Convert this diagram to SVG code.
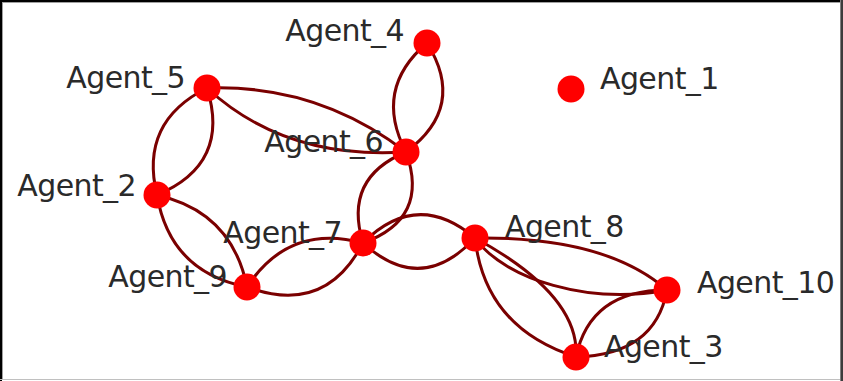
<svg xmlns="http://www.w3.org/2000/svg" width="843" height="381" viewBox="0 0 843 381">
<style>
.edge{fill:none;stroke:#7a0000;stroke-width:3;stroke-linecap:round}
.node{fill:#ff0000}
.lbl{font-family:"DejaVu Sans",Verdana,sans-serif;font-size:30px;letter-spacing:-0.6px;fill:#2a2a2a}
.end{text-anchor:end}
</style>
<rect x="0" y="0" width="843" height="381" fill="#ffffff"/>
<g id="frame">
<rect x="0" y="0" width="843" height="2" fill="#000000"/>
<rect x="0" y="0" width="2" height="381" fill="#000000"/>
<rect x="2" y="2" width="838" height="1" fill="#a0a0a0"/>
<rect x="2" y="2" width="1" height="377" fill="#a0a0a0"/>
<rect x="840" y="0" width="1" height="381" fill="#808080"/>
<rect x="841" y="0" width="2" height="381" fill="#3c3c3c"/>
<rect x="0" y="379" width="840" height="1" fill="#c0c0c0"/>
</g>
<g id="edges">
<path class="edge" d="M427,43 Q373,89 406,152"/>
<path class="edge" d="M427,43 Q467,107 406,152"/>
<path class="edge" d="M207,88 Q318,84 406,152"/>
<path class="edge" d="M207,88 Q285,160 406,152"/>
<path class="edge" d="M207,88 Q139,122 157,195"/>
<path class="edge" d="M207,88 Q231,164 157,195"/>
<path class="edge" d="M157,195 Q232,212 247,287"/>
<path class="edge" d="M157,195 Q170,272 247,287"/>
<path class="edge" d="M247,287 Q289,223 363,243"/>
<path class="edge" d="M247,287 Q325,316 363,243"/>
<path class="edge" d="M363,243 Q343,178 406,152"/>
<path class="edge" d="M363,243 Q430,219 406,152"/>
<path class="edge" d="M363,243 Q417,189 475,238"/>
<path class="edge" d="M363,243 Q421,296 475,238"/>
<path class="edge" d="M475,238 Q605,236 667,290"/>
<path class="edge" d="M475,238 C505,280 590,305 667,290"/>
<path class="edge" d="M475,238 Q485,328 576,357"/>
<path class="edge" d="M475,238 Q580,295 576,357"/>
<path class="edge" d="M576,357 Q590,290 667,290"/>
<path class="edge" d="M576,357 Q655,355 667,290"/>
</g>
<g id="agent_1"><circle class="node" cx="571" cy="89" r="13.5"/><text class="lbl" x="600" y="89">Agent_1</text></g>
<g id="agent_2"><circle class="node" cx="157" cy="195" r="13.5"/><text class="lbl end" x="136" y="196">Agent_2</text></g>
<g id="agent_3"><circle class="node" cx="576" cy="357" r="13.5"/><text class="lbl" x="604" y="357">Agent_3</text></g>
<g id="agent_4"><circle class="node" cx="427" cy="43" r="13.5"/><text class="lbl end" x="404" y="41">Agent_4</text></g>
<g id="agent_5"><circle class="node" cx="207" cy="88" r="13.5"/><text class="lbl end" x="185" y="88">Agent_5</text></g>
<g id="agent_6"><circle class="node" cx="406" cy="152" r="13.5"/><text class="lbl end" x="383" y="152">Agent_6</text></g>
<g id="agent_7"><circle class="node" cx="363" cy="243" r="13.5"/><text class="lbl end" x="342" y="243">Agent_7</text></g>
<g id="agent_8"><circle class="node" cx="475" cy="238" r="13.5"/><text class="lbl" x="505" y="237">Agent_8</text></g>
<g id="agent_9"><circle class="node" cx="247" cy="287" r="13.5"/><text class="lbl end" x="227" y="287">Agent_9</text></g>
<g id="agent_10"><circle class="node" cx="667" cy="290" r="13.5"/><text class="lbl" x="697" y="293">Agent_10</text></g>
</svg>
